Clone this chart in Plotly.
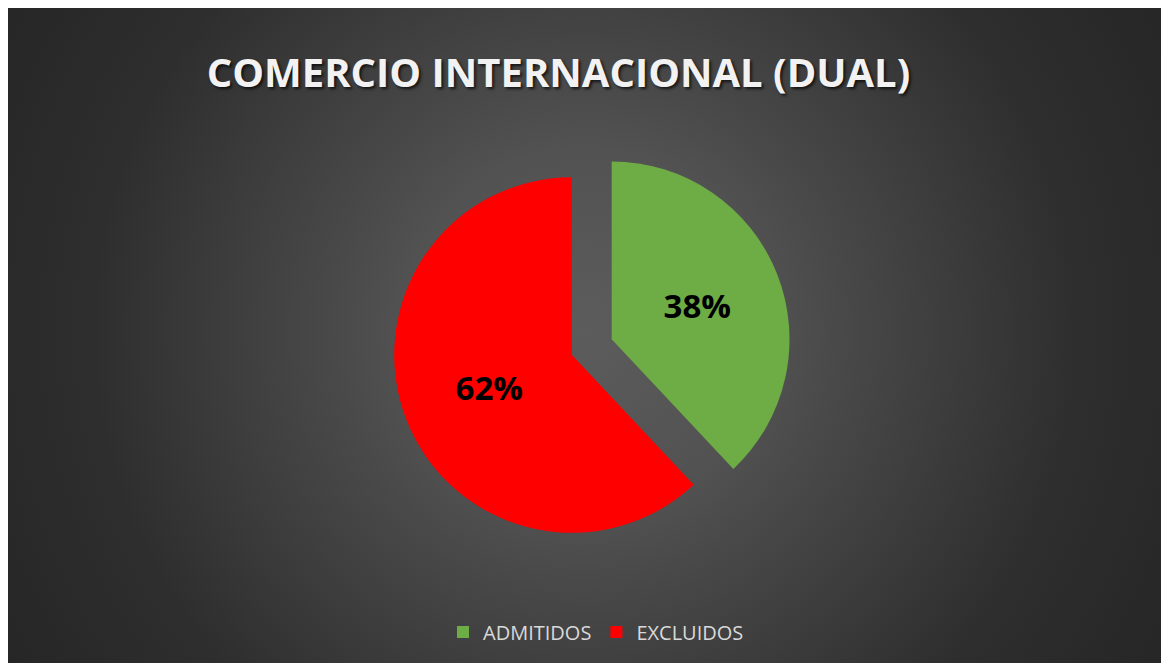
import base64
import plotly.graph_objects as go

# ---- data ----
labels = ["ADMITIDOS", "EXCLUIDOS"]
values = [38, 62]
colors = ["#6eac45", "#ff0000"]
pulls = [0.24, 0.0]
title_text = "COMERCIO INTERNACIONAL (DUAL)"

W, H = 1169, 663

# radial gradient background as an SVG image
cx, cy = 577, 322
svg = f'''<svg xmlns="http://www.w3.org/2000/svg" width="{W}" height="{H}" viewBox="0 0 {W} {H}">
<defs><radialGradient id="g" gradientUnits="userSpaceOnUse" cx="{cx}" cy="{cy}" r="667">
<stop offset="0" stop-color="#5c5c5c"/>
<stop offset="0.27" stop-color="#525252"/>
<stop offset="0.38" stop-color="#494949"/>
<stop offset="0.74" stop-color="#2e2e2e"/>
<stop offset="1" stop-color="#262626"/>
</radialGradient></defs>
<rect x="0" y="0" width="{W}" height="{H}" fill="url(#g)"/>
</svg>'''
src = "data:image/svg+xml;base64," + base64.b64encode(svg.encode()).decode()

# pie domain (pixel-based, figure coords)
dx0, dx1 = 343.5, 784.5
dy_top, dy_bot = 126.5, 567.5

fig = go.Figure(go.Pie(
    labels=labels,
    values=values,
    sort=False,
    direction="clockwise",
    rotation=0,
    pull=pulls,
    marker=dict(colors=colors, line=dict(width=0)),
    texttemplate="%{percent:.0%}",
    textposition="inside",
    insidetextorientation="horizontal",
    textfont=dict(family="Open Sans", size=33, color="black", weight="bold"),
    hoverinfo="label+percent",
    domain=dict(x=[dx0 / W, dx1 / W], y=[1 - dy_bot / H, 1 - dy_top / H]),
))

fig.update_layout(
    width=W, height=H,
    margin=dict(l=0, r=0, t=0, b=0),
    paper_bgcolor="#2e2e2e",
    images=[dict(source=src, xref="paper", yref="paper",
                 x=0, y=1, sizex=1, sizey=1,
                 xanchor="left", yanchor="top", sizing="stretch", layer="below")],
    title=dict(text=title_text, x=550.5 / W, y=1 - 65 / H,
               xanchor="center", yanchor="middle", xref="paper", yref="paper",
               font=dict(family="Open Sans", size=40, color="#f2f2f2", weight="bold",
                         shadow="2px 2px 3px rgba(0,0,0,0.7)")),
    legend=dict(orientation="h", x=588 / W, xanchor="center",
                y=1 - 624 / H, yanchor="middle",
                font=dict(family="Open Sans", size=20, color="#d9d9d9"),
                bgcolor="rgba(0,0,0,0)", itemsizing="constant"),
    showlegend=True,
)

fig.write_html("out.html")
